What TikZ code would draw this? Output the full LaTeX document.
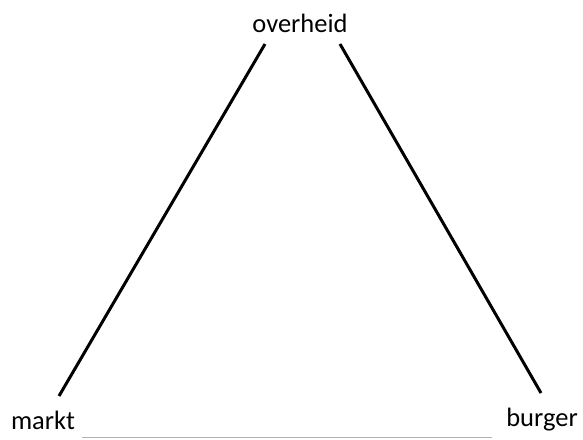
\documentclass[tikz,border=0pt]{standalone}
\usepackage{fontspec}
\setmainfont{Carlito}
\begin{document}
\begin{tikzpicture}[x=1pt,y=-1pt,
  lbl/.style={inner sep=0pt,font=\fontsize{26.5}{30}\selectfont},
  side/.style={line width=3pt,black}]
\useasboundingbox (0,0) rectangle (583,439);
\node[lbl] (ov) at (300,23) {overheid};
\node[lbl] (ma) at (43,420) {markt};
\node[lbl] (bu) at (542,420) {burger};
\coordinate (ovl) at (265,44);
\coordinate (ovr) at (340,44);
\coordinate (mat) at (59,396);
\coordinate (but) at (541,393);
\coordinate (bl) at (82,437.5);
\coordinate (br) at (492,437.5);
\draw[side] (ovl) -- (mat);
\draw[side] (ovr) -- (but);
\draw[line width=1.2pt,gray!60] (bl) -- (br);
\end{tikzpicture}
\end{document}
